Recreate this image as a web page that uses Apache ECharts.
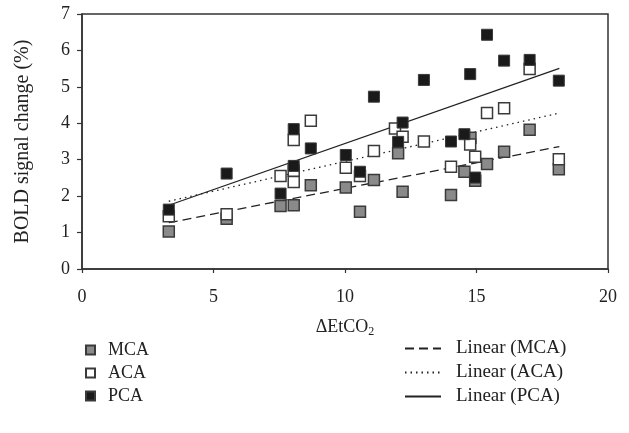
<!DOCTYPE html>
<html>
<head>
<meta charset="utf-8">
<script src="https://cdn.jsdelivr.net/npm/echarts@6/dist/echarts.min.js"></script>
<style>html,body{margin:0;padding:0;background:#fff;}#c{width:629px;height:433px;}</style>
</head>
<body>
<div id="c"></div>
<script>
// ---- data ----
const mcaX = [3.3, 5.5, 7.55, 8.05, 8.7, 10.03, 10.57, 11.1, 12.02, 12.19, 14.03, 14.54, 14.77, 14.95, 15.4, 16.05, 17.02, 18.13];
const mcaY = [1.03, 1.38, 1.73, 1.75, 2.3, 2.24, 1.57, 2.44, 3.18, 2.12, 2.03, 2.67, 3.6, 2.42, 2.88, 3.22, 3.82, 2.74];
const acaX = [3.3, 5.5, 7.55, 8.05, 8.05, 8.05, 8.7, 10.03, 10.57, 11.1, 11.9, 12.19, 13.0, 14.03, 14.76, 14.95, 15.4, 16.05, 17.02, 18.13];
const acaY = [1.45, 1.5, 2.55, 2.39, 3.54, 2.7, 4.07, 2.78, 2.55, 3.24, 3.86, 3.63, 3.5, 2.81, 3.42, 3.08, 4.28, 4.41, 5.49, 3.01];
const pcaX = [3.3, 5.5, 7.55, 8.05, 8.05, 8.7, 10.03, 10.57, 11.1, 12.02, 12.19, 13.0, 14.03, 14.54, 14.76, 14.95, 15.4, 16.05, 17.02, 18.13];
const pcaY = [1.63, 2.62, 2.07, 3.84, 2.83, 3.31, 3.13, 2.67, 4.73, 3.49, 4.02, 5.19, 3.5, 3.7, 5.35, 2.51, 6.43, 5.72, 5.74, 5.17];
const trendX = [3.3, 18.15];
const mcaTrendY = [1.27, 3.36];
const acaTrendY = [1.86, 4.28];
const pcaTrendY = [1.75, 5.51];
const xTicks = [0, 5, 10, 15, 20];
const yTicks = [0, 1, 2, 3, 4, 5, 6, 7];

const zip = (xs, ys) => xs.map((x, i) => [x, ys[i]]);
const FONT = 'Liberation Serif';
const TXT = '#222';

const chart = echarts.init(document.getElementById('c'), null, {renderer: 'canvas'});
chart.setOption({
  animation: false,
  backgroundColor: '#fff',
  grid: {left: 82, right: 21, top: 14, bottom: 164, show: true, borderColor: '#333', borderWidth: 1.5, backgroundColor: 'transparent'},
  xAxis: {
    type: 'value', min: xTicks[0], max: xTicks[xTicks.length - 1], interval: 5,
    axisLine: {lineStyle: {color: '#333', width: 1.5}},
    axisTick: {show: true, length: 4, lineStyle: {color: '#333', width: 1.2}},
    splitLine: {show: false},
    axisLabel: {color: TXT, fontFamily: FONT, fontSize: 18, margin: 19},
    name: '{a|ΔEtCO}{b|2}', nameLocation: 'middle', nameGap: 48,
    nameTextStyle: {rich: {
      a: {fontFamily: FONT, fontSize: 18, color: TXT},
      b: {fontFamily: FONT, fontSize: 12, color: TXT, padding: [9, 0, 0, 0]}
    }}
  },
  yAxis: {
    type: 'value', min: yTicks[0], max: yTicks[yTicks.length - 1], interval: 1,
    axisLine: {show: true, lineStyle: {color: '#333', width: 1.5}},
    axisTick: {show: true, length: 5, lineStyle: {color: '#333', width: 1.2}},
    splitLine: {show: false},
    axisLabel: {color: TXT, fontFamily: FONT, fontSize: 18, margin: 12},
    name: 'BOLD signal change (%)', nameLocation: 'middle', nameGap: 49, nameRotate: 90,
    nameTextStyle: {fontFamily: FONT, fontSize: 20, color: TXT}
  },
  legend: [
    {
      orient: 'vertical', left: 80, top: 336, itemWidth: 9, itemHeight: 9, itemGap: 5,
      data: [
        {name: 'MCA', icon: 'rect'},
        {name: 'ACA', icon: 'rect'},
        {name: 'PCA', icon: 'rect'}
      ],
      textStyle: {fontFamily: FONT, fontSize: 18, color: TXT, padding: [0, 0, 0, 8]}
    },
    {
      orient: 'vertical', left: 399, top: 334, itemWidth: 36, itemHeight: 10, itemGap: 5,
      itemStyle: {opacity: 0},
      data: ['Linear (MCA)', 'Linear (ACA)', 'Linear (PCA)'],
      textStyle: {fontFamily: FONT, fontSize: 19, color: TXT, padding: [0, 0, 0, 10]}
    }
  ],
  series: [
    {name: 'Linear (MCA)', type: 'line', data: zip(trendX, mcaTrendY), symbol: 'none', z: 1,
      lineStyle: {color: '#222', width: 1.3, type: [9, 5]}, itemStyle: {color: '#222'}},
    {name: 'Linear (ACA)', type: 'line', data: zip(trendX, acaTrendY), symbol: 'none', z: 1,
      lineStyle: {color: '#222', width: 1.3, type: [1.5, 4]}, itemStyle: {color: '#222'}},
    {name: 'Linear (PCA)', type: 'line', data: zip(trendX, pcaTrendY), symbol: 'none', z: 1,
      lineStyle: {color: '#222', width: 1.3, type: 'solid'}, itemStyle: {color: '#222'}},
    {name: 'MCA', type: 'scatter', data: zip(mcaX, mcaY), symbol: 'rect', symbolSize: 11, z: 2,
      itemStyle: {color: '#8a8a8a', borderColor: '#3a3a3a', borderWidth: 1.5, opacity: 1}},
    {name: 'ACA', type: 'scatter', data: zip(acaX, acaY), symbol: 'rect', symbolSize: 11, z: 3,
      itemStyle: {color: '#ffffff', borderColor: '#3a3a3a', borderWidth: 1.5, opacity: 1}},
    {name: 'PCA', type: 'scatter', data: zip(pcaX, pcaY), symbol: 'rect', symbolSize: 11, z: 4,
      itemStyle: {color: '#1a1a1a', borderColor: '#3a3a3a', borderWidth: 1, opacity: 1}}
  ]
});
</script>
</body>
</html>
